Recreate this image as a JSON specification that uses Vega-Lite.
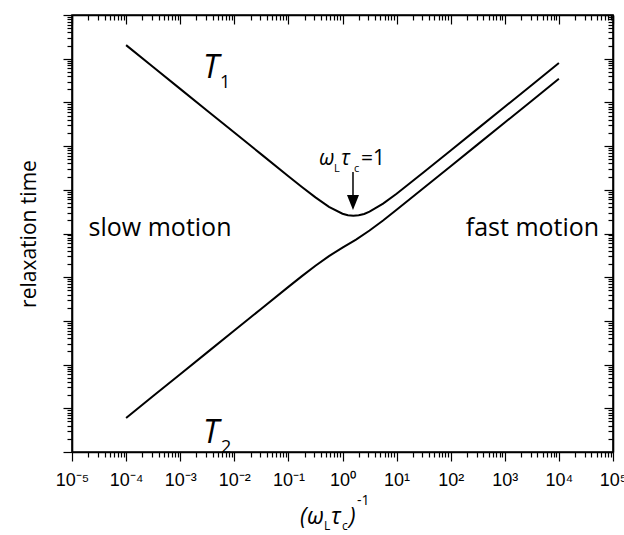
{
  "$schema": "https://vega.github.io/schema/vega-lite/v6.json",
  "width": 541,
  "height": 437,
  "autosize": {"type": "none"},
  "padding": {"left": 72, "top": 15, "right": 11, "bottom": 83},
  "background": "white",
  "config": {
    "view": {"stroke": "black", "strokeWidth": 1.6},
    "axis": {"domainColor": "black", "domainWidth": 1.6, "tickColor": "black", "tickWidth": 1.2, "grid": false, "labelColor": "black", "titleColor": "black"}
  },
  "datasets": {
    "curves": [
      {"series": "T1", "x": 0.0001, "y": 2.042e9},
      {"series": "T1", "x": 0.0003162, "y": 6.457e8},
      {"series": "T1", "x": 0.001, "y": 2.042e8},
      {"series": "T1", "x": 0.003162, "y": 6.457e7},
      {"series": "T1", "x": 0.01, "y": 2.042e7},
      {"series": "T1", "x": 0.03162, "y": 6.46e6},
      {"series": "T1", "x": 0.1, "y": 2.051e6},
      {"series": "T1", "x": 0.1778, "y": 1.161e6},
      {"series": "T1", "x": 0.3162, "y": 6.714e5},
      {"series": "T1", "x": 0.5623, "y": 4.074e5},
      {"series": "T1", "x": 1, "y": 2.838e5},
      {"series": "T1", "x": 1.259, "y": 2.624e5},
      {"series": "T1", "x": 1.585, "y": 2.547e5},
      {"series": "T1", "x": 1.995, "y": 2.606e5},
      {"series": "T1", "x": 2.512, "y": 2.805e5},
      {"series": "T1", "x": 3.162, "y": 3.155e5},
      {"series": "T1", "x": 5.623, "y": 4.831e5},
      {"series": "T1", "x": 10, "y": 8.147e5},
      {"series": "T1", "x": 17.78, "y": 1.426e6},
      {"series": "T1", "x": 31.62, "y": 2.518e6},
      {"series": "T1", "x": 100, "y": 7.943e6},
      {"series": "T1", "x": 316.2, "y": 2.512e7},
      {"series": "T1", "x": 1000, "y": 7.943e7},
      {"series": "T1", "x": 3162, "y": 2.512e8},
      {"series": "T1", "x": 10000, "y": 7.943e8},
      {"series": "T2", "x": 0.0001, "y": 6.026},
      {"series": "T2", "x": 0.0003162, "y": 19.05},
      {"series": "T2", "x": 0.001, "y": 60.26},
      {"series": "T2", "x": 0.003162, "y": 190.5},
      {"series": "T2", "x": 0.01, "y": 602.6},
      {"series": "T2", "x": 0.03162, "y": 1905},
      {"series": "T2", "x": 0.1, "y": 5998},
      {"series": "T2", "x": 0.1778, "y": 10570},
      {"series": "T2", "x": 0.3162, "y": 18320},
      {"series": "T2", "x": 0.5623, "y": 30410},
      {"series": "T2", "x": 1, "y": 47420},
      {"series": "T2", "x": 1.778, "y": 72610},
      {"series": "T2", "x": 3.162, "y": 116900},
      {"series": "T2", "x": 5.623, "y": 199100},
      {"series": "T2", "x": 10, "y": 349100},
      {"series": "T2", "x": 31.62, "y": 1.096e6},
      {"series": "T2", "x": 100, "y": 3.467e6},
      {"series": "T2", "x": 316.2, "y": 1.096e7},
      {"series": "T2", "x": 1000, "y": 3.467e7},
      {"series": "T2", "x": 3162, "y": 1.096e8},
      {"series": "T2", "x": 10000, "y": 3.467e8}
    ],
    "bigT": [
      {"x": 0.002636, "y": 3.62e8, "text": "T"},
      {"x": 0.002636, "y": 1.607, "text": "T"}
    ],
    "bigTsub": [
      {"x": 0.005445, "y": 2.14e8, "text": "1"},
      {"x": 0.00567, "y": 0.949, "text": "2"}
    ],
    "regime": [
      {"x": 0.000424, "y": 87700, "text": "slow motion"},
      {"x": 3250, "y": 87700, "text": "fast motion"}
    ],
    "mainText": [
      {"x": 0.368, "y": 3.70e6, "text": "ω"},
      {"x": 0.938, "y": 3.70e6, "text": "τ"}
    ],
    "titleText": [
      {"x": 0.1637, "y": 0.0225, "text": "("},
      {"x": 0.2208, "y": 0.0225, "text": "ω"},
      {"x": 0.612, "y": 0.0225, "text": "τ"},
      {"x": 1.318, "y": 0.0225, "text": ")"}
    ],
    "plainText": [
      {"x": 2.198, "y": 3.70e6, "text": "=1"}
    ],
    "subText": [
      {"x": 0.697, "y": 2.55e6, "text": "L"},
      {"x": 1.633, "y": 2.55e6, "text": "c"}
    ],
    "titleSub": [
      {"x": 0.455, "y": 0.0162, "text": "L"},
      {"x": 0.98, "y": 0.0162, "text": "c"}
    ],
    "supText": [
      {"x": 1.854, "y": 0.0605, "text": "-1"}
    ],
    "arrow": [
      {"x": 1.563, "y": 2.55e6, "y2": 7.21e5}
    ],
    "arrowHead": [
      {"x": 1.563, "y": 5.12e5}
    ]
  },
  "layer": [
    {
      "data": {"name": "curves"},
      "mark": {"type": "line", "color": "black", "strokeWidth": 2},
      "encoding": {
        "x": {
          "field": "x", "type": "quantitative",
          "scale": {"type": "log", "domain": [1e-5, 1e5], "nice": false},
          "axis": {
            "orient": "bottom", "title": null,
            "values": [1e-5,2e-5,3e-5,4e-5,5e-5,6e-5,7e-5,8e-5,9e-5,1e-4,2e-4,3e-4,4e-4,5e-4,6e-4,7e-4,8e-4,9e-4,1e-3,2e-3,3e-3,4e-3,5e-3,6e-3,7e-3,8e-3,9e-3,1e-2,2e-2,3e-2,4e-2,5e-2,6e-2,7e-2,8e-2,9e-2,0.1,0.2,0.3,0.4,0.5,0.6,0.7,0.8,0.9,1,2,3,4,5,6,7,8,9,10,20,30,40,50,60,70,80,90,100,200,300,400,500,600,700,800,900,1000,2000,3000,4000,5000,6000,7000,8000,9000,10000,20000,30000,40000,50000,60000,70000,80000,90000,100000],
            "tickSize": {"condition": {"test": "abs(log(datum.value)/LN10 - round(log(datum.value)/LN10)) < 1e-6", "value": 9}, "value": 5},
            "labelExpr": "abs(log(datum.value)/LN10 - round(log(datum.value)/LN10)) < 1e-6 ? '10' + ['⁻⁵','⁻⁴','⁻³','⁻²','⁻¹','⁰','¹','²','³','⁴','⁵'][round(log(datum.value)/LN10)+5] : ''",
            "labelFont": "Liberation Sans", "labelFontSize": 18, "labelPadding": 10,
            "labelOverlap": false, "labelFlush": false, "labelBound": false
          }
        },
        "y": {
          "field": "y", "type": "quantitative",
          "scale": {"type": "log", "domain": [1, 1e10], "nice": false},
          "axis": {
            "orient": "left", "labels": false,
            "title": "relaxation time", "titleFont": "Open Sans", "titleFontSize": 21, "titleFontWeight": "normal", "titlePadding": 23,
            "values": [1,2,3,4,5,6,7,8,9,10,20,30,40,50,60,70,80,90,100,200,300,400,500,600,700,800,900,1e3,2e3,3e3,4e3,5e3,6e3,7e3,8e3,9e3,1e4,2e4,3e4,4e4,5e4,6e4,7e4,8e4,9e4,1e5,2e5,3e5,4e5,5e5,6e5,7e5,8e5,9e5,1e6,2e6,3e6,4e6,5e6,6e6,7e6,8e6,9e6,1e7,2e7,3e7,4e7,5e7,6e7,7e7,8e7,9e7,1e8,2e8,3e8,4e8,5e8,6e8,7e8,8e8,9e8,1e9,2e9,3e9,4e9,5e9,6e9,7e9,8e9,9e9,1e10],
            "tickSize": {"condition": {"test": "abs(log(datum.value)/LN10 - round(log(datum.value)/LN10)) < 1e-6", "value": 9}, "value": 5}
          }
        },
        "detail": {"field": "series"}
      }
    },
    {
      "data": {"name": "bigT"},
      "mark": {"type": "text", "font": "Open Sans", "fontSize": 32, "fontStyle": "italic", "align": "left", "baseline": "alphabetic", "color": "black"},
      "encoding": {
        "x": {
          "field": "x", "type": "quantitative",
          "axis": {
            "orient": "top", "labels": false, "title": null,
            "values": [1e-5,2e-5,3e-5,4e-5,5e-5,6e-5,7e-5,8e-5,9e-5,1e-4,2e-4,3e-4,4e-4,5e-4,6e-4,7e-4,8e-4,9e-4,1e-3,2e-3,3e-3,4e-3,5e-3,6e-3,7e-3,8e-3,9e-3,1e-2,2e-2,3e-2,4e-2,5e-2,6e-2,7e-2,8e-2,9e-2,0.1,0.2,0.3,0.4,0.5,0.6,0.7,0.8,0.9,1,2,3,4,5,6,7,8,9,10,20,30,40,50,60,70,80,90,100,200,300,400,500,600,700,800,900,1000,2000,3000,4000,5000,6000,7000,8000,9000,10000,20000,30000,40000,50000,60000,70000,80000,90000,100000],
            "tickSize": {"condition": {"test": "abs(log(datum.value)/LN10 - round(log(datum.value)/LN10)) < 1e-6", "value": -9}, "value": -5}
          }
        },
        "y": {
          "field": "y", "type": "quantitative",
          "axis": {
            "orient": "right", "labels": false, "title": null,
            "values": [1,2,3,4,5,6,7,8,9,10,20,30,40,50,60,70,80,90,100,200,300,400,500,600,700,800,900,1e3,2e3,3e3,4e3,5e3,6e3,7e3,8e3,9e3,1e4,2e4,3e4,4e4,5e4,6e4,7e4,8e4,9e4,1e5,2e5,3e5,4e5,5e5,6e5,7e5,8e5,9e5,1e6,2e6,3e6,4e6,5e6,6e6,7e6,8e6,9e6,1e7,2e7,3e7,4e7,5e7,6e7,7e7,8e7,9e7,1e8,2e8,3e8,4e8,5e8,6e8,7e8,8e8,9e8,1e9,2e9,3e9,4e9,5e9,6e9,7e9,8e9,9e9,1e10],
            "tickSize": {"condition": {"test": "abs(log(datum.value)/LN10 - round(log(datum.value)/LN10)) < 1e-6", "value": -9}, "value": -5}
          }
        },
        "text": {"field": "text"}
      }
    },
    {
      "data": {"name": "bigTsub"},
      "mark": {"type": "text", "font": "Open Sans", "fontSize": 18, "align": "left", "baseline": "alphabetic", "color": "black"},
      "encoding": {
        "x": {"field": "x", "type": "quantitative", "axis": null},
        "y": {"field": "y", "type": "quantitative", "axis": null},
        "text": {"field": "text"}
      }
    },
    {
      "data": {"name": "regime"},
      "mark": {"type": "text", "font": "Open Sans", "fontSize": 25, "align": "center", "baseline": "alphabetic", "color": "black"},
      "encoding": {
        "x": {"field": "x", "type": "quantitative", "axis": null},
        "y": {"field": "y", "type": "quantitative", "axis": null},
        "text": {"field": "text"}
      }
    },
    {
      "data": {"name": "mainText"},
      "mark": {"type": "text", "font": "Open Sans", "fontSize": 21, "fontStyle": "italic", "align": "left", "baseline": "alphabetic", "color": "black"},
      "encoding": {
        "x": {"field": "x", "type": "quantitative", "axis": null},
        "y": {"field": "y", "type": "quantitative", "axis": null},
        "text": {"field": "text"}
      }
    },
    {
      "data": {"name": "titleText"},
      "mark": {"type": "text", "font": "Open Sans", "fontSize": 23, "fontStyle": "italic", "align": "left", "baseline": "alphabetic", "color": "black"},
      "encoding": {
        "x": {"field": "x", "type": "quantitative", "axis": null},
        "y": {"field": "y", "type": "quantitative", "axis": null},
        "text": {"field": "text"}
      }
    },
    {
      "data": {"name": "plainText"},
      "mark": {"type": "text", "font": "Open Sans", "fontSize": 21, "align": "left", "baseline": "alphabetic", "color": "black"},
      "encoding": {
        "x": {"field": "x", "type": "quantitative", "axis": null},
        "y": {"field": "y", "type": "quantitative", "axis": null},
        "text": {"field": "text"}
      }
    },
    {
      "data": {"name": "subText"},
      "mark": {"type": "text", "font": "Open Sans", "fontSize": 11, "align": "left", "baseline": "alphabetic", "color": "black"},
      "encoding": {
        "x": {"field": "x", "type": "quantitative", "axis": null},
        "y": {"field": "y", "type": "quantitative", "axis": null},
        "text": {"field": "text"}
      }
    },
    {
      "data": {"name": "titleSub"},
      "mark": {"type": "text", "font": "Open Sans", "fontSize": 12, "align": "left", "baseline": "alphabetic", "color": "black"},
      "encoding": {
        "x": {"field": "x", "type": "quantitative", "axis": null},
        "y": {"field": "y", "type": "quantitative", "axis": null},
        "text": {"field": "text"}
      }
    },
    {
      "data": {"name": "supText"},
      "mark": {"type": "text", "font": "Open Sans", "fontSize": 14, "align": "left", "baseline": "alphabetic", "color": "black"},
      "encoding": {
        "x": {"field": "x", "type": "quantitative", "axis": null},
        "y": {"field": "y", "type": "quantitative", "axis": null},
        "text": {"field": "text"}
      }
    },
    {
      "data": {"name": "arrow"},
      "mark": {"type": "rule", "color": "black", "strokeWidth": 1.5},
      "encoding": {
        "x": {"field": "x", "type": "quantitative", "axis": null},
        "y": {"field": "y", "type": "quantitative", "axis": null},
        "y2": {"field": "y2"}
      }
    },
    {
      "data": {"name": "arrowHead"},
      "mark": {"type": "point", "shape": "M-0.8,-1L0.8,-1L0,1Z", "size": 225, "filled": true, "color": "black", "opacity": 1},
      "encoding": {
        "x": {"field": "x", "type": "quantitative", "axis": null},
        "y": {"field": "y", "type": "quantitative", "axis": null}
      }
    }
  ],
  "resolve": {"axis": {"x": "independent", "y": "independent"}}
}
